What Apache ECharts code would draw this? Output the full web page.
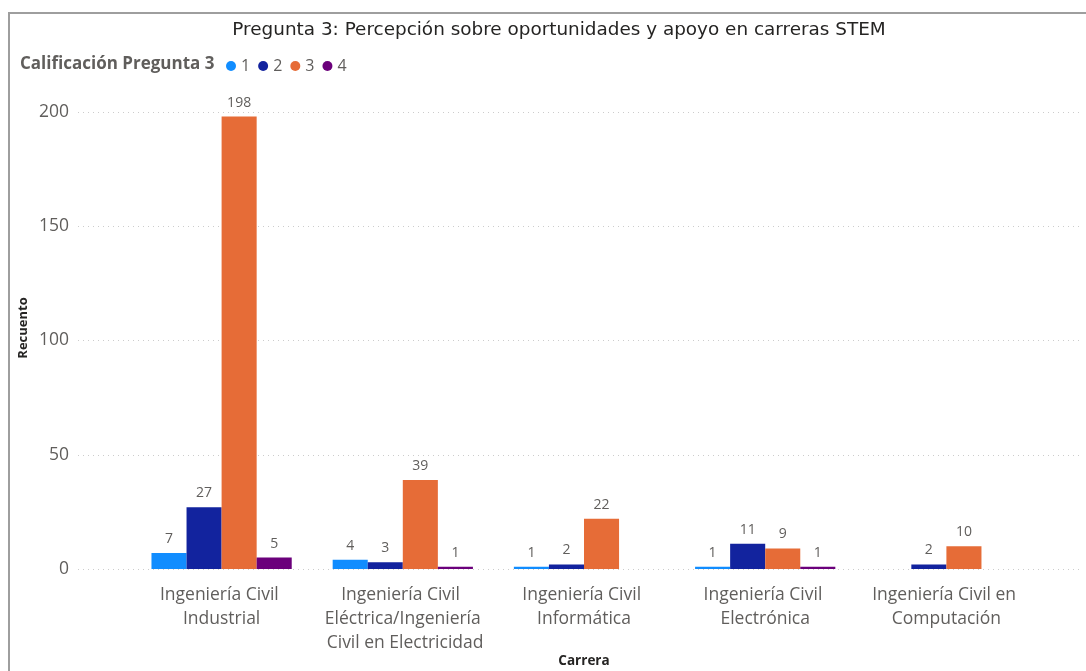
<!DOCTYPE html>
<html>
<head>
<meta charset="utf-8">
<script src="https://cdn.jsdelivr.net/npm/echarts@6/dist/echarts.min.js"></script>
<style>
  html, body { margin: 0; padding: 0; background: #fff; }
  #main { width: 1086px; height: 671px; }
</style>
</head>
<body>
<div id="main"></div>
<script>
// carreras (eje x)
const carreras = [
  'Ingeniería Civil Industrial',
  'Ingeniería Civil Eléctrica/Ingeniería Civil en Electricidad',
  'Ingeniería Civil Informática',
  'Ingeniería Civil Electrónica',
  'Ingeniería Civil en Computación'
]
// recuento por calificación (null = sin datos)
const calif1 = [7, 4, 1, 1, null]
const calif2 = [27, 3, 2, 11, 2]
const calif3 = [198, 39, 22, 9, 10]
const calif4 = [5, 1, null, 1, null]
const yTicks = [0, 50, 100, 150, 200]

const colores = ['#118DFF', '#12239E', '#E66C37', '#6B007B']
const gris = '#605E5C'
const fuente = '"Open Sans", "Noto Sans", sans-serif'

const chart = echarts.init(document.getElementById('main'))

const serie = (name, data, i) => ({
  name: name,
  type: 'bar',
  xAxisIndex: 1,
  yAxisIndex: 1,
  data: data,
  barGap: '0%',
  barCategoryGap: '22.6%',
  itemStyle: { color: colores[i] },
  label: {
    show: true,
    position: 'top',
    distance: 7,
    color: gris,
    fontSize: 14,
    fontFamily: fuente
  }
})

const option = {
  animation: false,
  textStyle: { fontFamily: fuente },
  title: [
    {
      text: 'Pregunta 3: Percepción sobre oportunidades y apoyo en carreras STEM',
      left: 554,
      top: 16,
      textAlign: 'center',
      textStyle: { fontSize: 18.4, fontWeight: 'normal', color: '#252423', fontFamily: '"DejaVu Sans", sans-serif' }
    },
    {
      text: 'Calificación Pregunta 3',
      left: 15,
      top: 51,
      textStyle: { fontSize: 17, fontWeight: 'bold', color: gris, fontFamily: fuente }
    }
  ],
  legend: {
    left: 221,
    top: 53,
    icon: 'circle',
    itemWidth: 10,
    itemHeight: 10,
    itemGap: 8,
    textStyle: { color: gris, fontSize: 16, fontFamily: fuente },
    data: ['1', '2', '3', '4']
  },
  graphic: [
    {
      type: 'text',
      x: 23,
      y: 328,
      rotation: Math.PI / 2,
      style: {
        text: 'Recuento',
        fill: '#252423',
        font: 'bold 13px ' + fuente,
        textAlign: 'center',
        textVerticalAlign: 'middle'
      }
    },
    {
      type: 'polyline',
      shape: { points: [[9, 671], [9, 13], [1086, 13]] },
      style: { stroke: '#9E9E9E', lineWidth: 2, fill: null }
    }
  ],
  grid: [
    { left: 78, right: 3, top: 112, bottom: 102, outerBoundsMode: 'none' },
    { left: 131, right: 49, top: 112, bottom: 102, outerBoundsMode: 'none' }
  ],
  xAxis: [
    { type: 'value', gridIndex: 0, show: false },
    {
      type: 'category',
      gridIndex: 1,
      data: carreras,
      axisLine: { show: false },
      axisTick: { show: false },
      axisLabel: {
        color: gris,
        fontSize: 17.5,
        margin: 14,
        lineHeight: 24,
        width: 180,
        overflow: 'break',
        interval: 0
      },
      name: 'Carrera',
      nameLocation: 'middle',
      nameGap: 85,
      nameMoveOverlap: false,
      nameTextStyle: { color: '#252423', fontSize: 13.5, fontWeight: 'bold' }
    }
  ],
  yAxis: [
    {
      type: 'value',
      gridIndex: 0,
      min: yTicks[0],
      max: yTicks[yTicks.length - 1],
      interval: yTicks[1] - yTicks[0],
      axisLine: { show: false },
      axisTick: { show: false },
      axisLabel: { color: gris, fontSize: 17.5, margin: 9 },
      splitLine: { lineStyle: { color: '#CCCCCC', type: [1, 4], width: 1 } }
    },
    { type: 'value', gridIndex: 1, min: 0, max: 200, show: false, splitLine: { show: false } }
  ],
  series: [
    serie('1', calif1, 0),
    serie('2', calif2, 1),
    serie('3', calif3, 2),
    serie('4', calif4, 3)
  ]
}

chart.setOption(option)
</script>
</body>
</html>
